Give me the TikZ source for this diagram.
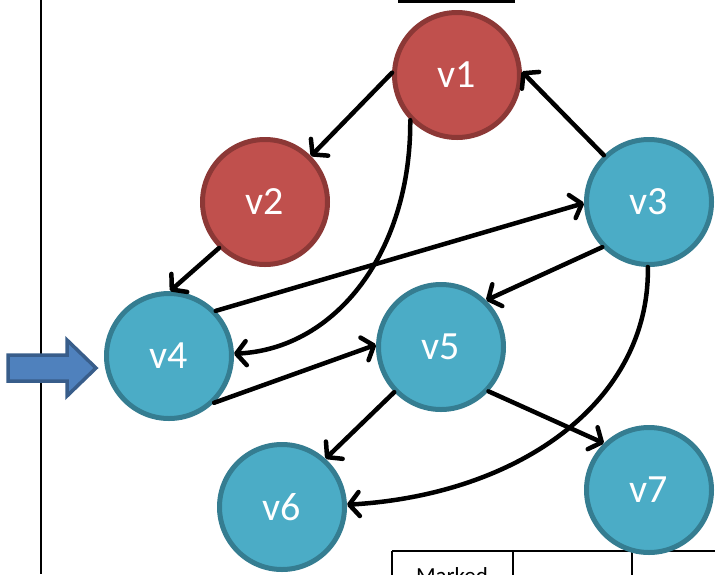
\documentclass[tikz,border=0pt]{standalone}
\usepackage{fontspec}
\setmainfont{Carlito}
\usetikzlibrary{arrows.meta}
\definecolor{redfill}{HTML}{C0504D}
\definecolor{redline}{HTML}{8C3836}
\definecolor{bluefill}{HTML}{4BACC6}
\definecolor{blueline}{HTML}{357D91}
\definecolor{arrfill}{HTML}{4F81BD}
\definecolor{arrline}{HTML}{385D8A}
\tikzset{
  vert/.style={circle, minimum size=125pt, inner sep=0pt, line width=5pt, text=white,
    font=\fontsize{40}{42}\selectfont},
  redv/.style={vert, fill=redfill, draw=redline},
  bluev/.style={vert, fill=bluefill, draw=blueline},
  edge/.style={line width=4.5pt, line cap=round,
    -{Straight Barb[length=10pt,width=24pt,line width=4.5pt,round]}},
  rule/.style={line width=2.5pt, black}
}
\begin{document}
\begin{tikzpicture}[x=1pt,y=1pt]
\useasboundingbox (0,0) rectangle (715,-574);
% frame lines
\draw[rule] (41,0) -- (41,-574);
\draw[line width=3.5pt] (398,-1.5) -- (515,-1.5);
\draw[rule] (392,-551) -- (715,-551);
\draw[rule] (392,-551) -- (392,-580);
\draw[rule] (513,-551) -- (513,-580);
\draw[rule] (632,-551) -- (632,-580);
\node[anchor=base, font=\fontsize{23}{25}\selectfont] (marked) at (452,-583) {Marked};
% block arrow
\draw[fill=arrfill, draw=arrline, line width=3.5pt, line join=miter]
  (8,-355) -- (67,-355) -- (67,-340) -- (96,-368) -- (67,-396) -- (67,-381) -- (8,-381) -- cycle;
% vertices
\node[redv] (v1) at (457,-75) {v1};
\node[redv] (v2) at (265,-202) {v2};
\node[bluev] (v3) at (649,-202) {v3};
\node[bluev] (v4) at (169,-356) {v4};
\node[bluev] (v5) at (441,-347) {v5};
\node[bluev] (v6) at (282,-507) {v6};
\node[bluev] (v7) at (649,-490) {v7};
% edges
\draw[edge] (v1.178) -- (v2.45);
\draw[edge] (v3.134) -- (v1.3);
\draw[edge] (v2.225) -- (v4.89);
\draw[edge] (v4.44) -- (v3.181);
\draw[edge] (v4.314) -- (v5.178);
\draw[edge] (v3.224) -- (v5.46);
\draw[edge] (v5.224) -- (v6.48);
\draw[edge] (v5.317) -- (v7.134);
\draw[edge] (v1.224) .. controls +(1,-130) and +(103,5) .. (v4.2);
\draw[edge] (v3.269) .. controls +(2,-135) and +(172,10) .. (v6.2);
\end{tikzpicture}
\end{document}
